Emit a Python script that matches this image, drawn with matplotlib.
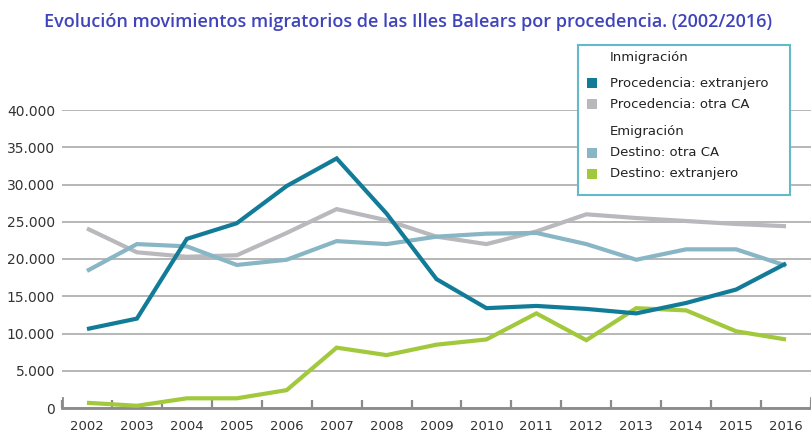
import matplotlib
matplotlib.use("Agg")
import matplotlib.pyplot as plt
from matplotlib.patches import Rectangle
from matplotlib.ticker import FuncFormatter

# data
years = ["2002", "2003", "2004", "2005", "2006", "2007", "2008", "2009",
         "2010", "2011", "2012", "2013", "2014", "2015", "2016"]
proc_extranjero = [10600, 12000, 22700, 24800, 29800, 33500, 26100, 17300,
                   13400, 13700, 13300, 12700, 14100, 15900, 19400]
proc_otra_ca = [24100, 20900, 20300, 20500, 23500, 26700, 25200, 23000,
                22000, 23700, 26000, 25500, 25100, 24700, 24400]
dest_otra_ca = [18400, 22000, 21700, 19200, 19900, 22400, 22000, 23000,
                23400, 23500, 22000, 19900, 21300, 21300, 19100]
dest_extranjero = [700, 300, 1300, 1300, 2400, 8100, 7100, 8500,
                   9200, 12700, 9100, 13400, 13100, 10300, 9200]

series = [
    ("Procedencia: extranjero", proc_extranjero, "#127c98"),
    ("Procedencia: otra CA", proc_otra_ca, "#b9b9bd"),
    ("Destino: otra CA", dest_otra_ca, "#88b6c4"),
    ("Destino: extranjero", dest_extranjero, "#a2c83c"),
]

W, H = 811, 434
fig = plt.figure(figsize=(W / 100, H / 100), dpi=100)
ax = fig.add_axes([62 / W, 26 / H, 749 / W, 298 / H])

x = list(range(len(years)))
# draw order: grey lines behind the teal one
for idx in [1, 2, 3, 0]:
    name, vals, col = series[idx]
    ax.plot(x, vals, color=col, lw=3.0, solid_capstyle="butt",
            solid_joinstyle="miter", zorder=3)

ax.set_xlim(-0.5, len(years) - 0.5)
ax.set_ylim(0, 40000)

for s in ["top", "right", "left"]:
    ax.spines[s].set_visible(False)
ax.spines["bottom"].set_color("#8a8a8a")
ax.spines["bottom"].set_linewidth(2.0)

ax.set_yticks(range(0, 40001, 5000))
ax.yaxis.set_major_formatter(FuncFormatter(lambda v, p: f"{int(v):,}".replace(",", ".")))
ax.tick_params(axis="y", length=0, pad=5, labelsize=10, labelcolor="#333333")
ax.yaxis.grid(True, color="#aaaaaa", lw=1.2, zorder=0)
ax.set_axisbelow(True)

# ticks at category boundaries, labels at category centres
ax.set_xticks([i - 0.5 for i in range(len(years) + 1)])
ax.set_xticklabels([])
ax.set_xticks(x, minor=True)
ax.set_xticklabels(years, minor=True)
ax.tick_params(axis="x", which="major", direction="in", length=6,
               width=1.6, color="#8a8a8a")
ax.tick_params(axis="x", which="minor", length=0, pad=9, labelsize=9.5,
               labelcolor="#333333")
for xe in [-0.5, len(years) - 0.5]:
    ax.axvline(xe, ymin=0, ymax=0.035, color="#8a8a8a", lw=2.0, zorder=2)

fig.text(408 / W, 1 - 22 / H,
         "Evolución movimientos migratorios de las Illes Balears por procedencia. (2002/2016)",
         ha="center", va="center", fontsize=13, color="#3f44bc",
         family="Open Sans", weight="semibold")

# legend box
box = Rectangle((578 / W, 1 - 195 / H), 212 / W, 150 / H, transform=fig.transFigure,
                facecolor="white", edgecolor="#63b9c9", lw=1.5, zorder=5)
fig.patches.append(box)
tkw = dict(fontsize=9.5, color="#222222", va="center", ha="left", zorder=6)
fig.text(610 / W, 1 - 58 / H, "Inmigración", **tkw)
fig.text(610 / W, 1 - 132 / H, "Emigración", **tkw)
rows = [83, 104, 153, 174]
for (name, vals, col), yy in zip(series, rows):
    fig.patches.append(Rectangle((587 / W, 1 - (yy + 5) / H), 10 / W, 10 / H,
                                 transform=fig.transFigure, facecolor=col,
                                 edgecolor="none", zorder=6))
    fig.text(610 / W, 1 - yy / H, name, **tkw)

fig.savefig("out.png", dpi=100, facecolor="white")
